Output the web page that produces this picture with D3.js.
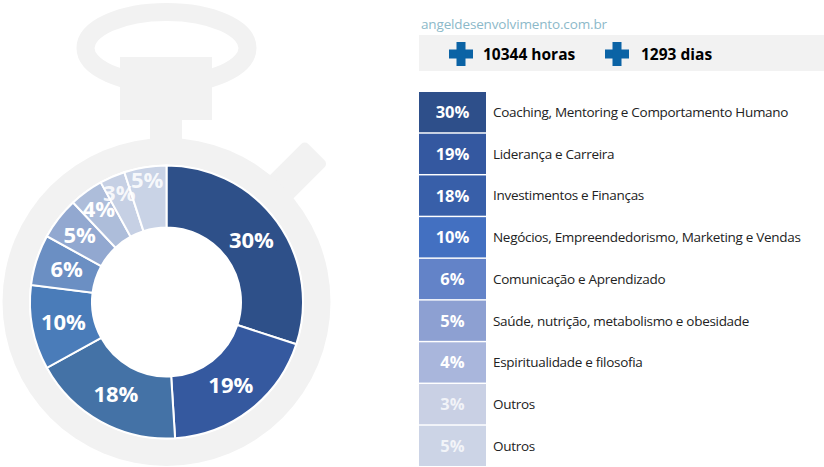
<!DOCTYPE html>
<html><head><meta charset="utf-8">
<script src="https://cdn.jsdelivr.net/npm/d3@7"></script>
<style>
html,body{margin:0;padding:0;background:#fff;}
svg{display:block;font-family:"Segoe UI","Open Sans","Noto Sans",sans-serif;}
</style></head>
<body><svg id="c" width="824" height="467"></svg>
<script>
const categories = [
  "Coaching, Mentoring e Comportamento Humano",
  "Liderança e Carreira",
  "Investimentos e Finanças",
  "Negócios, Empreendedorismo, Marketing e Vendas",
  "Comunicação e Aprendizado",
  "Saúde, nutrição, metabolismo e obesidade",
  "Espiritualidade e filosofia",
  "Outros",
  "Outros"
];
const values = [30, 19, 18, 10, 6, 5, 4, 3, 5];
const donutColors = ["#2e5089","#35599f","#4472a6","#4a7cb9","#6b8fc3","#92a8d0","#adbdda","#c6d0e4","#c9d3e6"];
const legendColors = ["#2e4f8a","#3458a0","#385fa9","#4370c1","#6383c8","#8da0d2","#a9b6dc","#c9d0e4","#ccd4e6"];
const siteText = "angeldesenvolvimento.com.br";
const totals = ["10344 horas", "1293 dias"];

const svg = d3.select("#c");
const gray = "#f2f2f2";
const cx = 166.5, cy = 302;

// stopwatch silhouette
const sw = svg.append("g");
sw.append("ellipse").attr("cx", cx).attr("cy", 48).attr("rx", 81).attr("ry", 36)
  .attr("fill", "none").attr("stroke", gray).attr("stroke-width", 18);
sw.append("rect").attr("x", 120).attr("y", 57).attr("width", 92).attr("height", 63).attr("fill", gray);
sw.append("rect").attr("x", 150).attr("y", 110).attr("width", 32).attr("height", 40).attr("fill", gray);
sw.append("rect").attr("x", 150).attr("y", -16.5).attr("width", 62).attr("height", 33).attr("rx", 5)
  .attr("fill", gray)
  .attr("transform", `translate(${cx},${cy}) rotate(-45)`);
sw.append("circle").attr("cx", cx).attr("cy", cy).attr("r", 164).attr("fill", gray);

// donut
const pie = d3.pie().sort(null).value(d => d)(values);
const arc = d3.arc().innerRadius(74.5).outerRadius(136.5);
const g = svg.append("g").attr("transform", `translate(${cx},${cy})`);
g.append("circle").attr("r", 137.5).attr("fill", "#fff");
g.selectAll("path.s").data(pie).join("path").attr("class", "s")
  .attr("d", arc).attr("fill", (d, i) => donutColors[i])
  .attr("stroke", "#fff").attr("stroke-width", 2);
g.append("circle").attr("r", 74).attr("fill", "#fff");

g.selectAll("text.l").data(pie).join("text").attr("class", "l")
  .attr("transform", d => {
    const mid = (d.startAngle + d.endAngle) / 2;
    const deg = mid * 180 / Math.PI;
    const r = 105 + Math.max(0, deg - 292) * 0.31;
    return `translate(${Math.sin(mid) * r},${-Math.cos(mid) * r})`;
  })
  .attr("text-anchor", "middle").attr("dy", "0.36em")
  .attr("fill", "#fff").attr("font-weight", "bold").attr("font-size", 22)
  .attr("fill-opacity", (d, i) => i >= 7 ? 0.85 : 1)
  .text(d => d.data + "%");

// header
svg.append("text").attr("x", 421).attr("y", 29).attr("font-size", 13.5).attr("letter-spacing", -0.15)
  .attr("fill", "#8cb9c9").text(siteText);
svg.append("rect").attr("x", 419).attr("y", 35).attr("width", 405).attr("height", 36).attr("fill", gray);
const plus = (x, y) => {
  const s = 24, t = 9;
  svg.append("rect").attr("x", x - s/2).attr("y", y - t/2).attr("width", s).attr("height", t).attr("fill", "#0b63a5");
  svg.append("rect").attr("x", x - t/2).attr("y", y - s/2).attr("width", t).attr("height", s).attr("fill", "#0b63a5");
};
plus(461, 54); plus(617, 54);
svg.append("text").attr("x", 483).attr("y", 60).attr("font-size", 15.5).attr("font-weight", "bold").attr("fill", "#000").text(totals[0]);
svg.append("text").attr("x", 641).attr("y", 60).attr("font-size", 15.5).attr("font-weight", "bold").attr("fill", "#000").text(totals[1]);

// legend
const y = d3.scaleBand().domain(d3.range(values.length)).range([92, 466]).paddingInner(0.035);
const lg = svg.append("g");
lg.selectAll("rect").data(values).join("rect")
  .attr("x", 419).attr("y", (d, i) => y(i)).attr("width", 67).attr("height", y.bandwidth())
  .attr("fill", (d, i) => legendColors[i]);
lg.selectAll("text.p").data(values).join("text").attr("class", "p")
  .attr("x", 452.5).attr("y", (d, i) => y(i) + y.bandwidth() / 2).attr("dy", "0.36em")
  .attr("text-anchor", "middle").attr("font-size", 16.5).attr("font-weight", "bold")
  .attr("fill", "#fff").attr("fill-opacity", (d, i) => i >= 7 ? 0.75 : 1)
  .text(d => d + "%");
lg.selectAll("text.c").data(categories).join("text").attr("class", "c")
  .attr("x", 493).attr("y", (d, i) => y(i) + y.bandwidth() / 2).attr("dy", "0.36em")
  .attr("font-size", 13.5).attr("letter-spacing", -0.3).attr("fill", "#222")
  .text(d => d);
</script></body></html>
